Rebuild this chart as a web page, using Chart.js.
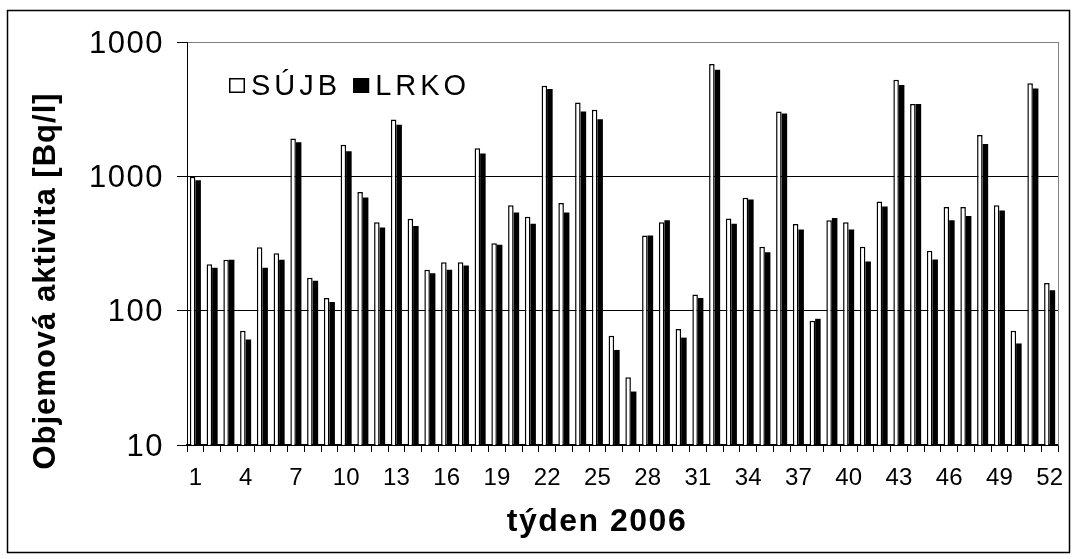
<!DOCTYPE html>
<html>
<head>
<meta charset="utf-8">
<script src="https://cdn.jsdelivr.net/npm/chart.js@4.4.1/dist/chart.umd.min.js"></script>
<style>
  html, body { margin: 0; padding: 0; background: #fff; }
  #wrap { width: 1077px; height: 559px; }
</style>
</head>
<body>
<div id="wrap"><canvas id="chart" width="1077" height="559"></canvas></div>
<script>
// weekly volume activity, two labs
const weeks = Array.from({ length: 52 }, (_, i) => String(i + 1));

const sujb = [995, 222, 239, 71, 297, 268, 1910, 176, 124, 1720, 763, 456, 2650, 483, 202, 229, 229, 1620, 318, 608,
  500, 4720, 632, 3550, 3130, 65, 32, 363, 456, 73, 132, 6850, 486, 693, 299, 3040, 441, 84, 472, 456,
  299, 651, 5230, 3450, 279, 590, 590, 2030, 608, 71, 4940, 161];

const lrko = [934, 209, 239, 61, 209, 239, 1790, 167, 116, 1540, 697, 416, 2420, 426, 190, 202, 217, 1480, 309, 539,
  444, 4460, 539, 3040, 2660, 51, 25, 363, 472, 63, 124, 6210, 444, 673, 272, 2940, 402, 87, 489, 402,
  232, 597, 4780, 3450, 240, 472, 506, 1740, 557, 57, 4510, 142];

const yTickValues = [10, 100, 1000, 10000];
const yTickLabels = ['10', '100', '1000', '1000'];

const FONT = '"Liberation Sans", Arial, sans-serif';

// frame, grey plot border, legend, y labels and axis titles
const decor = {
  id: 'decor',
  afterDraw(chart) {
    const { ctx, chartArea: a, scales: { y } } = chart;
    ctx.save();

    ctx.strokeStyle = '#000';
    ctx.lineWidth = 1.5;
    ctx.strokeRect(7.5, 10.5, 1062, 542);

    ctx.strokeStyle = '#808080';
    ctx.lineWidth = 1;
    ctx.beginPath();
    ctx.moveTo(a.right + 0.5, a.top);
    ctx.lineTo(a.right + 0.5, a.bottom);
    ctx.stroke();

    ctx.fillStyle = '#000';
    ctx.font = '31px ' + FONT;
    ctx.letterSpacing = '1.5px';
    ctx.textAlign = 'right';
    ctx.textBaseline = 'middle';
    yTickValues.forEach((v, i) => {
      ctx.fillText(yTickLabels[i], a.left - 23, y.getPixelForValue(v) + 2);
    });

    // legend
    ctx.font = '29px ' + FONT;
    ctx.letterSpacing = '4px';
    ctx.textAlign = 'left';
    ctx.textBaseline = 'alphabetic';
    let lx = 229;
    chart.data.datasets.forEach(ds => {
      ctx.fillStyle = ds.backgroundColor;
      ctx.fillRect(lx, 78, 16, 15);
      ctx.strokeStyle = '#000';
      ctx.lineWidth = 1.5;
      ctx.strokeRect(lx + 0.75, 78.75, 14.5, 13.5);
      ctx.fillStyle = '#000';
      ctx.fillText(ds.label, lx + 22, 95);
      lx += 22 + ctx.measureText(ds.label).width + 12;
    });

    // axis titles
    ctx.font = 'bold 32px ' + FONT;
    ctx.letterSpacing = '1.5px';
    ctx.textAlign = 'center';
    ctx.textBaseline = 'middle';
    ctx.fillText('týden 2006', 597, 522);

    ctx.font = 'bold 31px ' + FONT;
    ctx.letterSpacing = '1px';
    ctx.translate(46, 281);
    ctx.rotate(-Math.PI / 2);
    ctx.fillText('Objemová aktivita [Bq/l]', 0, 0);

    ctx.restore();
  }
};

new Chart(document.getElementById('chart'), {
  type: 'bar',
  data: {
    labels: weeks,
    datasets: [
      {
        label: 'SÚJB',
        data: sujb,
        backgroundColor: '#ffffff',
        borderColor: '#000000',
        borderWidth: 1.5
      },
      {
        label: 'LRKO',
        data: lrko,
        backgroundColor: '#000000',
        borderColor: '#000000',
        borderWidth: 0
      }
    ]
  },
  options: {
    responsive: false,
    animation: false,
    categoryPercentage: 0.66,
    barPercentage: 1.0,
    layout: { padding: { top: 42, right: 19, left: 0, bottom: 0 } },
    plugins: {
      legend: { display: false },
      tooltip: { enabled: false }
    },
    scales: {
      x: {
        grid: {
          offset: true,
          drawOnChartArea: false,
          drawTicks: true,
          tickLength: 7,
          color: '#000'
        },
        border: { display: true, color: '#000', width: 1.5 },
        ticks: {
          autoSkip: false,
          maxRotation: 0,
          minRotation: 0,
          padding: 12,
          color: '#000',
          font: { family: FONT, size: 24 },
          callback: (val, i) => (i % 3 === 0 ? weeks[i] : '')
        },
        afterFit: s => { s.height = 114; }
      },
      y: {
        type: 'logarithmic',
        min: 10,
        max: 10000,
        afterBuildTicks: s => { s.ticks = yTickValues.map(v => ({ value: v })); },
        afterFit: s => { s.width = 187; },
        ticks: { display: false },
        grid: {
          color: c => (c.tick && c.tick.value === 10000 ? '#808080' : '#000'),
          tickColor: '#000',
          tickLength: 10,
          lineWidth: 1
        },
        border: { display: true, color: '#000', width: 1 }
      }
    }
  },
  plugins: [decor]
});
</script>
</body>
</html>
